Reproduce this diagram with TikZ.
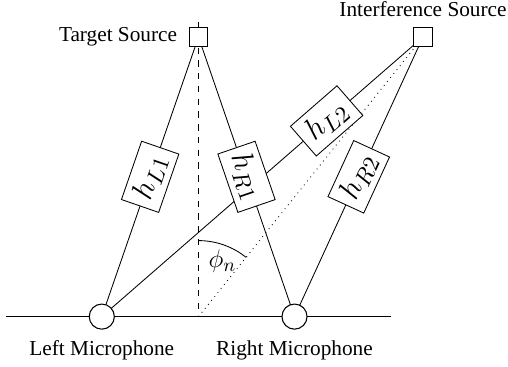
\documentclass[tikz,border=0pt]{standalone}
\usepackage{fontspec}
\setmainfont{Liberation Serif}
\usetikzlibrary{positioning,backgrounds,calc}
\begin{document}
\begin{tikzpicture}[x=0.47pt,y=-0.47pt,line width=0.5pt,
  source/.style={draw,fill=white,rectangle,minimum size=8.5pt,inner sep=0pt},
  mic/.style={draw,fill=white,circle,minimum size=11.8pt,inner sep=0pt},
  filt/.style={draw,fill=white,rectangle,sloped,font=\fontsize{15.5}{18}\selectfont,
    minimum width=29pt,minimum height=18.5pt,inner sep=2.8pt},
  caption/.style={inner sep=3.33pt}]
\useasboundingbox (0,0) rectangle (508,366);

% sources and microphones
\node[source] (target) at (198.5,37) {};
\node[source] (interf) at (423,37) {};
\node[mic] (micL) at (101.8,316.6) {};
\node[mic] (micR) at (294.5,316.6) {};

\node[caption,left=2pt of target] (tlabel) {Target Source};
\node[caption,above=1.5pt of interf] (ilabel) {Interference Source};
\node[caption,below=1.7pt of micL] (llabel) {Left Microphone};
\node[caption,below=1.7pt of micR] (rlabel) {Right Microphone};

% reference points
\coordinate (top) at (198.5,22);
\coordinate (foot) at (198.5,316.6);
\coordinate (lineL) at (6,316.6);
\coordinate (lineR) at (391,316.6);

\begin{pgfonlayer}{background}
  % microphone axis and broadside direction
  \draw (lineL) -- (lineR);
  \draw[dashed] (top) -- (foot);
  \draw[dotted] (foot) -- (interf.center);
  \draw ($(foot)+(0,-76)$) arc[start angle=-90,end angle=-51.1,radius=76];
  \node[font=\fontsize{12.5}{15}\selectfont] (phi) at (222.5,261.5) {$\phi_n$};

  % acoustic paths with their transfer functions
  \draw (micL.center) -- node[filt,pos=0.7] (hL2) {$h_{L2}$} (interf.center);
  \draw (micR.center) -- node[filt,pos=0.5] (hR2) {$h_{R2}$} (interf.center);
  \draw (micL.center) -- node[filt,pos=0.5] (hL1) {$h_{L1}$} (target.center);
  \draw (target.center) -- node[filt,pos=0.5] (hR1) {$h_{R1}$} (micR.center);
\end{pgfonlayer}
\end{tikzpicture}
\end{document}
